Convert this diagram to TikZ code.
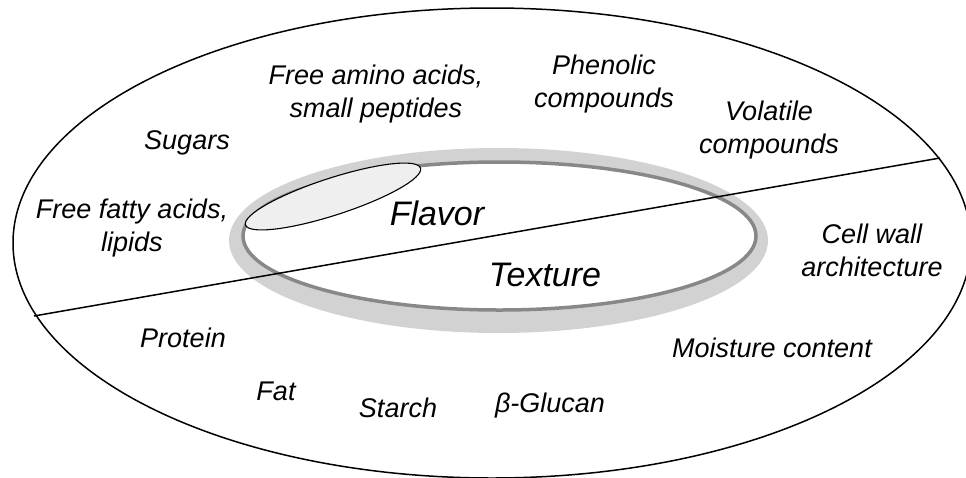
\documentclass[tikz,border=0pt]{standalone}
\usepackage{fontspec}
\setmainfont{Liberation Sans}
\definecolor{ringgray}{HTML}{D2D2D2}
\definecolor{ringdark}{HTML}{888888}
\definecolor{blobgray}{HTML}{EFEFEF}

\begin{document}
\begin{tikzpicture}[
    x=1pt, y=-1pt,
    item/.style={font=\fontsize{27}{33}\selectfont\itshape, align=center, inner sep=0pt},
    bigitem/.style={font=\fontsize{34}{40}\selectfont\itshape, inner sep=0pt},
    rim/.style={draw=black, line width=1.5pt},
  ]
  \useasboundingbox (0,0) rectangle (966,477);
  \clip (0,0) rectangle (966,477);

  % --- grain outline ---
  \draw[rim] (492,243) ellipse [x radius=479, y radius=235];

  % --- gray ring ---
  \fill[ringgray, even odd rule]
    (498.5,240.5) ellipse [x radius=269.5, y radius=92.5]
    (499.5,236) ellipse [x radius=256.5, y radius=74];
  \draw[ringdark, line width=3.5pt] (499.5,236) ellipse [x radius=256.5, y radius=74];

  % --- overlap blob ---
  \draw[fill=blobgray, line width=1.1pt, rotate around={18:(333,196.5)}]
    (333,196.5) ellipse [x radius=92, y radius=18.5];

  % --- flavor / texture cut ---
  \coordinate (cutW) at (34,316);
  \coordinate (cutE) at (940,158);
  \draw[rim] (cutW) -- (cutE);

  % ================================================================
  %  LABELS
  % ================================================================
  \node[bigitem] (flavor) at (437,213) {Flavor};
  \node[bigitem] (texture) at (545,275) {Texture};

  \node[item] (amino) at (376,94) {Free amino acids,\\small peptides};
  \node[item] (phenol) at (604,84) {Phenolic\\compounds};
  \node[item] (volat) at (769,130) {Volatile\\compounds};
  \node[item] (fatty) at (132,228) {Free fatty acids,\\lipids};
  \node[item] (cellwall) at (872,250) {Cell wall\\architecture};

  \foreach \nm/\x/\y/\txt in {sugars/187/143/Sugars, protein/183/338/Protein,
      fat/276/391/Fat, starch/398/408/Starch, glucan/550/406/β-Glucan,
      moist/772/348/Moisture content} {
    \node[item] (\nm) at (\x,\y) {\txt};
  }

\end{tikzpicture}
\end{document}
